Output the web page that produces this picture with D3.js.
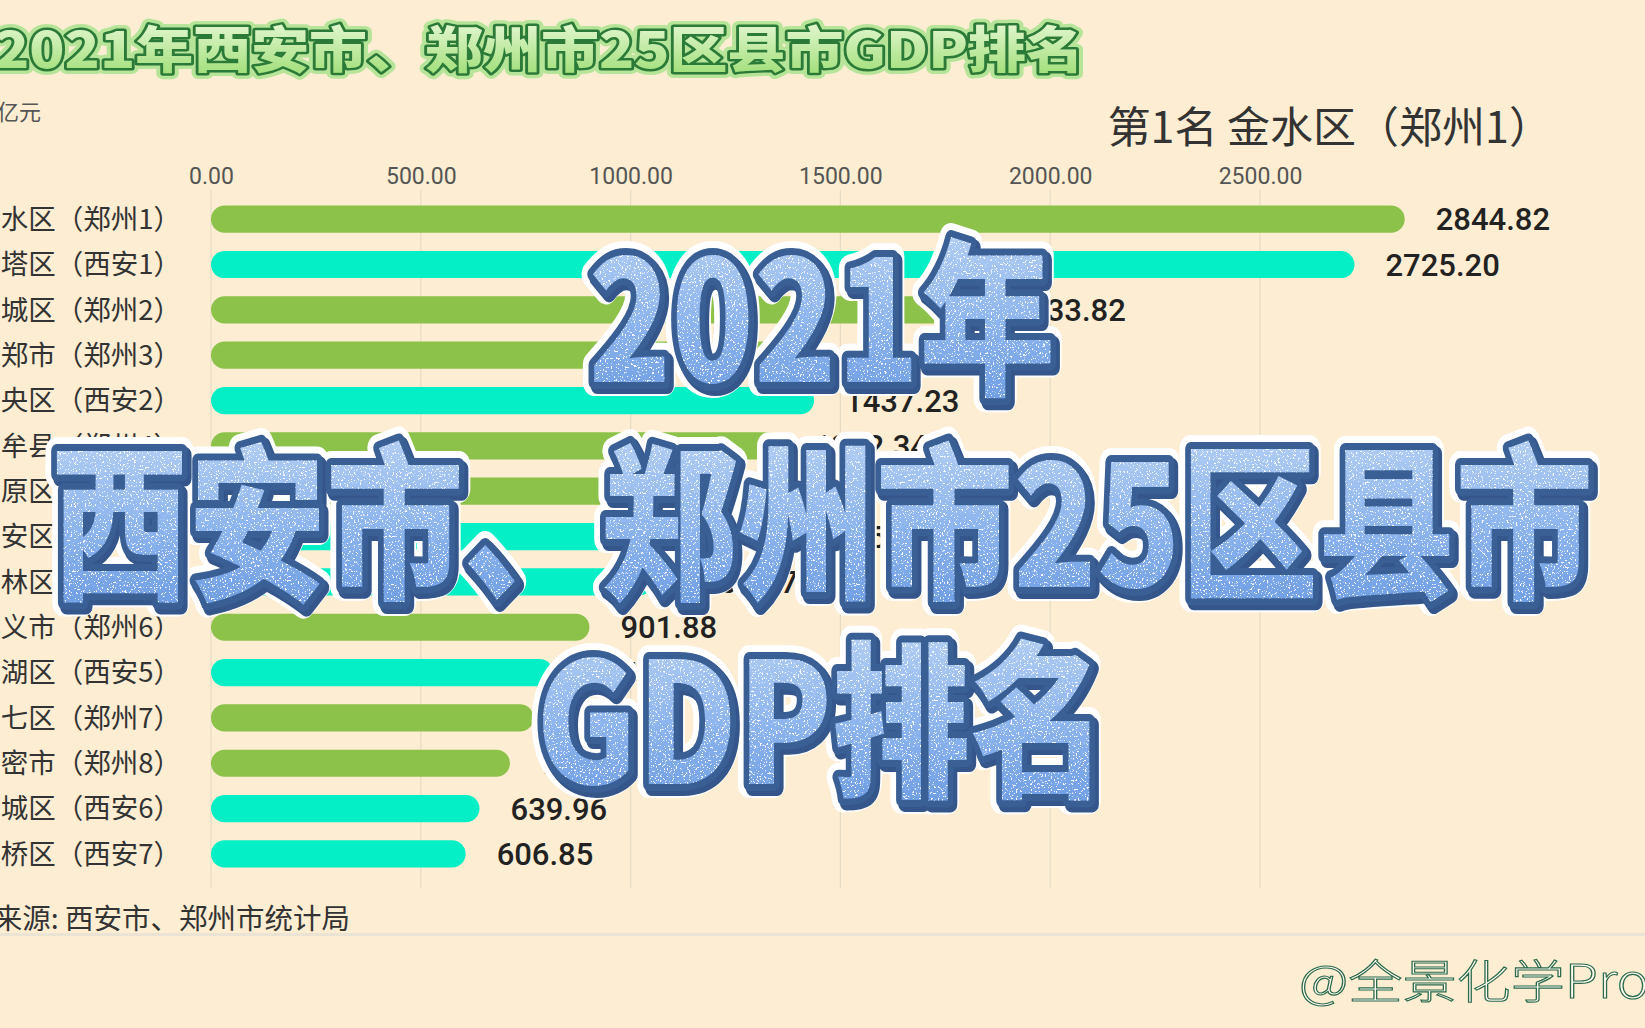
<!DOCTYPE html>
<html>
<head>
<meta charset="utf-8">
<script src="https://cdn.jsdelivr.net/npm/d3@7"></script>
<style>
  html, body { margin: 0; padding: 0; background: #fcedd3; overflow: hidden; }
  svg { display: block; }
</style>
</head>
<body>
<svg id="chart" width="1645" height="1028"></svg>
<script>
// ---------------- data ----------------
const categories = ["金水区（郑州1）","雁塔区（西安1）","管城区（郑州2）","新郑市（郑州3）","未央区（西安2）","中牟县（郑州4）","中原区（郑州5）","长安区（西安3）","碑林区（西安4）","巩义市（郑州6）","莲湖区（西安5）","二七区（郑州7）","新密市（郑州8）","新城区（西安6）","灞桥区（西安7）"];
const values = [2844.82, 2725.20, 1833.82, 1451.47, 1437.23, 1362.34, 1280.61, 1263.45, 1052.97, 901.88, 815.36, 768.84, 712.58, 639.96, 606.85];
const cities = ["郑州","西安","郑州","郑州","西安","郑州","郑州","西安","西安","郑州","西安","郑州","郑州","西安","西安"];
const tickValues = [0, 500, 1000, 1500, 2000, 2500];
const cityNames = ["郑州", "西安"];
const cityColors = ["#8cc249", "#05efc6"];
const titleText = "2021年西安市、郑州市25区县市GDP排名";
const unitText = "亿元";
const leaderText = "第1名 金水区（郑州1）";
const sourceText = "数据来源: 西安市、郑州市统计局";
const bigLines = ["2021年", "西安市、郑州市25区县市", "GDP排名"];
const signText = "@全景化学Pro";

const rows = categories.map((c, i) => ({ name: c, value: values[i], city: cities[i] }));

// ---------------- setup ----------------
const W = 1645, H = 1028;
const svg = d3.select("#chart");
const defs = svg.append("defs");
const CJK = "'Noto Sans CJK SC', 'Noto Sans', sans-serif";

svg.append("rect").attr("width", W).attr("height", H).attr("fill", "#fcedd3");

const x = d3.scaleLinear().domain([0, 2500]).range([211, 1260]);
const y = d3.scaleBand().domain(categories).range([196.5, 876.6]).paddingInner(0.4).paddingOuter(0.2);
const color = d3.scaleOrdinal().domain(cityNames).range(cityColors);

// ---------------- axis + grid ----------------
const axis = d3.axisTop(x).tickValues(tickValues).tickFormat(d3.format(".2f")).tickSize(0).tickPadding(0);
const gAxis = svg.append("g").attr("transform", "translate(0,184)").call(axis);
gAxis.select(".domain").remove();
gAxis.selectAll("text")
  .attr("font-family", "Roboto, 'Noto Sans', sans-serif")
  .attr("font-size", 23)
  .attr("fill", "#555")
  .attr("dy", 0);

svg.append("g").selectAll("line").data(tickValues).join("line")
  .attr("x1", d => x(d)).attr("x2", d => x(d))
  .attr("y1", 190).attr("y2", 888)
  .attr("stroke", "#e6dcc6").attr("stroke-width", 1.2);

// ---------------- bars ----------------
const bh = y.bandwidth();
svg.append("g").selectAll("rect").data(rows).join("rect")
  .attr("x", x(0))
  .attr("y", d => y(d.name))
  .attr("width", d => x(d.value) - x(0))
  .attr("height", bh)
  .attr("rx", bh / 2).attr("ry", bh / 2)
  .attr("fill", d => color(d.city));

// category labels
svg.append("g").selectAll("text").data(rows).join("text")
  .attr("x", 181)
  .attr("y", d => y(d.name) + bh / 2)
  .attr("dy", "0.36em")
  .attr("text-anchor", "end")
  .attr("font-family", CJK)
  .attr("font-size", 27.5)
  .attr("fill", "#333")
  .text(d => d.name);

// value labels
svg.append("g").selectAll("text").data(rows).join("text")
  .attr("x", d => x(d.value) + 31)
  .attr("y", d => y(d.name) + bh / 2)
  .attr("dy", "0.36em")
  .attr("font-family", "Roboto, 'Noto Sans', sans-serif")
  .attr("font-weight", 500)
  .attr("font-size", 31)
  .attr("fill", "#222")
  .text(d => d3.format(".2f")(d.value));

// ---------------- texts ----------------
// unit
svg.append("text").attr("x", -3).attr("y", 120)
  .attr("font-family", CJK).attr("font-size", 22).attr("fill", "#555").text(unitText);

// leader
svg.append("text").attr("x", 1552).attr("y", 143)
  .attr("text-anchor", "end")
  .attr("font-family", CJK).attr("font-size", 43).attr("fill", "#333").text(leaderText);

// source
svg.append("text").attr("x", 350).attr("y", 929)
  .attr("text-anchor", "end")
  .attr("font-family", CJK).attr("font-size", 28.5).attr("fill", "#333").text(sourceText);

// separator
svg.append("rect").attr("x", 0).attr("y", 933).attr("width", W).attr("height", 3).attr("fill", "#ebe3d3");

// signature
svg.append("text").attr("x", 1299).attr("y", 998)
  .attr("font-family", CJK).attr("font-weight", 300).attr("font-size", 46)
  .attr("textLength", 350).attr("lengthAdjust", "spacingAndGlyphs")
  .attr("fill", "#fffaf0").attr("stroke", "#2c6b4c").attr("stroke-width", 1.1)
  .text(signText);

// title
const tg = defs.append("linearGradient").attr("id", "tgrad").attr("x1", 0).attr("y1", 0).attr("x2", 0).attr("y2", 1);
tg.append("stop").attr("offset", "0%").attr("stop-color", "#f2fce4");
tg.append("stop").attr("offset", "100%").attr("stop-color", "#98dc6e");
const titleG = svg.append("g").attr("font-family", CJK).attr("font-weight", 900).attr("font-size", 50);
const titleAttrs = sel => sel.attr("x", -6).attr("y", 50).attr("dy", "0.36em")
  .attr("textLength", 1090).attr("lengthAdjust", "spacingAndGlyphs").text(titleText);
titleG.append("text").call(titleAttrs).attr("fill", "none").attr("stroke", "#b6e59a").attr("stroke-width", 12).attr("stroke-linejoin", "round");
titleG.append("text").call(titleAttrs).attr("fill", "none").attr("stroke", "#2b7a37").attr("stroke-width", 5).attr("stroke-linejoin", "round");
titleG.append("text").call(titleAttrs).attr("fill", "url(#tgrad)");

// ---------------- big overlay ----------------
const bg = defs.append("linearGradient").attr("id", "bgrad").attr("x1", 0).attr("y1", 0).attr("x2", 0).attr("y2", 1);
bg.append("stop").attr("offset", "0%").attr("stop-color", "#c4daf6");
bg.append("stop").attr("offset", "55%").attr("stop-color", "#8db5ee");
bg.append("stop").attr("offset", "100%").attr("stop-color", "#6496e0");

const f = defs.append("filter").attr("id", "speck").attr("x", 0).attr("y", 0).attr("width", 1).attr("height", 1);
f.append("feTurbulence").attr("type", "fractalNoise").attr("baseFrequency", 0.55).attr("numOctaves", 2).attr("seed", 7).attr("result", "noise");
f.append("feColorMatrix").attr("in", "noise").attr("type", "matrix")
  .attr("values", "0 0 0 0 1  0 0 0 0 1  0 0 0 0 1  14 0 0 0 -8.6").attr("result", "dots");
f.append("feComposite").attr("in", "dots").attr("in2", "SourceGraphic").attr("operator", "in").attr("result", "dotsIn");
const fm = f.append("feMerge");
fm.append("feMergeNode").attr("in", "SourceGraphic");
fm.append("feMergeNode").attr("in", "dotsIn");

const bigSpec = [
  { text: bigLines[0], cy: 322, len: 467 },
  { text: bigLines[1], cy: 527, len: 1542 },
  { text: bigLines[2], cy: 724, len: 572 }
];
const bigG = svg.append("g").attr("font-family", CJK).attr("font-weight", 900).attr("font-size", 168);
bigSpec.forEach(s => {
  const at = (sel, dx, dy) => sel.attr("x", 822 + dx).attr("y", s.cy + dy).attr("dy", "0.36em")
    .attr("text-anchor", "middle").attr("textLength", s.len).attr("lengthAdjust", "spacingAndGlyphs").text(s.text);
  bigG.append("text").call(at, 0, 0).attr("fill", "none").attr("stroke", "#ffffff").attr("stroke-width", 28).attr("stroke-linejoin", "round");
  bigG.append("text").call(at, 3, 4).attr("fill", "none").attr("stroke", "#34568a").attr("stroke-width", 16).attr("stroke-linejoin", "round");
  bigG.append("text").call(at, 0, 0).attr("fill", "none").attr("stroke", "#3a5f95").attr("stroke-width", 14).attr("stroke-linejoin", "round");
  bigG.append("text").call(at, 0, 0).attr("fill", "url(#bgrad)").attr("filter", "url(#speck)");
});
</script>
</body>
</html>
